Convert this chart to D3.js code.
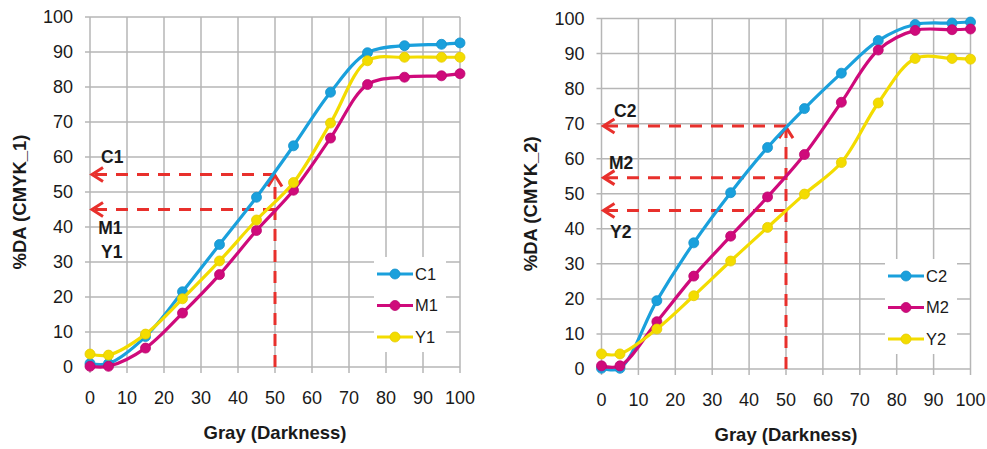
<!DOCTYPE html>
<html>
<head>
<meta charset="utf-8">
<script src="https://cdnjs.cloudflare.com/ajax/libs/d3/7.8.5/d3.min.js"></script>
<style>
    body { margin: 0; background: #fff; }
    text { font-family: "Liberation Sans", Arial, sans-serif; fill: #1a1a1a; }
</style>
</head>
<body>
<svg id="chart" width="987" height="449"></svg>
<script>
// gray levels measured (x axis)
const grayLevels = [0, 5, 15, 25, 35, 45, 55, 65, 75, 85, 95, 100]

// CMYK_1 curves
const c1 = [1, 1, 8.7, 21.5, 35, 48.5, 63.2, 78.5, 89.8, 91.8, 92.2, 92.6]
const m1 = [0.2, 0.2, 5.4, 15.4, 26.4, 39, 50.5, 65.4, 80.7, 82.8, 83.2, 83.8]
const y1 = [3.7, 3.4, 9.4, 19.5, 30.3, 42, 52.7, 69.7, 87.5, 88.5, 88.5, 88.5]

// CMYK_2 curves
const c2 = [0.2, 0.2, 19.5, 36, 50.3, 63.2, 74.3, 84.4, 93.7, 98.3, 98.7, 99]
const m2 = [0.9, 0.9, 13.5, 26.5, 37.9, 49.1, 61.2, 76.1, 91, 96.6, 96.8, 97]
const y2 = [4.3, 4.3, 11.4, 20.9, 30.8, 40.4, 49.9, 58.9, 75.9, 88.6, 88.6, 88.4]

const tickValues = [0, 10, 20, 30, 40, 50, 60, 70, 80, 90, 100]

// red guide lines: read %DA at gray 50
const guideGray = 50
const guides1 = [55, 45]
const guides2 = [69.3, 54.6, 45.2]
const notes1 = [{ text: "C1", x: 3, y: 58.3 }, { text: "M1", x: 2.2, y: 38 }, { text: "Y1", x: 3, y: 31.1 }]
const notes2 = [{ text: "C2", x: 3.4, y: 72 }, { text: "M2", x: 2, y: 57 }, { text: "Y2", x: 2.3, y: 37.3 }]

const colors = { C: "#1aa0dc", M: "#cf0a7b", Y: "#f3dc00" }
const markerStroke = { C: "#1592cb", M: "#bd0870", Y: "#e6cc00" }
const gridColor = "#b6b6b6"
const red = "#e8302c"

const svg = d3.select("#chart")

const drawPanel = (p) => {
    const x = d3.scaleLinear().domain([0, 100]).range([p.left, p.right])
    const y = d3.scaleLinear().domain([0, 100]).range([p.bottom, p.top])
    const g = svg.append("g")

    // grid + tick stubs
    g.append("g")
        .selectAll("line")
        .data(tickValues)
        .enter()
        .append("line")
        .attr("x1", d => x(d)).attr("x2", d => x(d))
        .attr("y1", p.top).attr("y2", p.bottom + 6)
        .attr("stroke", gridColor).attr("stroke-width", 1.5)
    g.append("g")
        .selectAll("line")
        .data(tickValues)
        .enter()
        .append("line")
        .attr("x1", p.left - 5).attr("x2", p.right)
        .attr("y1", d => y(d)).attr("y2", d => y(d))
        .attr("stroke", gridColor).attr("stroke-width", 1.5)

    // tick labels
    g.append("g")
        .selectAll("text")
        .data(tickValues)
        .enter()
        .append("text")
        .attr("x", d => x(d))
        .attr("y", p.bottom + 36.5)
        .attr("text-anchor", "middle")
        .attr("font-size", 18)
        .text(d => d)
    g.append("g")
        .selectAll("text")
        .data(tickValues)
        .enter()
        .append("text")
        .attr("x", p.left - 17)
        .attr("y", d => y(d))
        .attr("dy", "0.36em")
        .attr("text-anchor", "end")
        .attr("font-size", 18)
        .text(d => d)

    // axis titles
    g.append("text")
        .attr("x", (p.left + p.right) / 2)
        .attr("y", p.bottom + 72)
        .attr("text-anchor", "middle")
        .attr("font-size", 18.5)
        .attr("font-weight", "bold")
        .text("Gray (Darkness)")
    g.append("text")
        .attr("transform", `translate(${p.yTitleX}, ${(p.top + p.bottom) / 2 + 10}) rotate(-90)`)
        .attr("text-anchor", "middle")
        .attr("font-size", 18.5)
        .attr("font-weight", "bold")
        .text(p.yTitle)

    // red dashed guides
    const guideG = g.append("g")
        .attr("stroke", red).attr("stroke-width", 3).attr("fill", "none")
    const topLevel = d3.max(p.guides)
    guideG.append("line")
        .attr("x1", x(guideGray)).attr("x2", x(guideGray))
        .attr("y1", y(0)).attr("y2", y(topLevel) + 1)
        .attr("stroke-dasharray", "12,9")
    guideG.append("path")
        .attr("d", `M${x(guideGray) - 7},${y(topLevel) + 12}L${x(guideGray)},${y(topLevel) + 1}L${x(guideGray) + 7},${y(topLevel) + 12}`)
    p.guides.forEach(level => {
        guideG.append("line")
            .attr("x1", x(guideGray)).attr("x2", x(0) + 2)
            .attr("y1", y(level)).attr("y2", y(level))
            .attr("stroke-dasharray", "12,9")
        guideG.append("path")
            .attr("d", `M${x(0) + 13},${y(level) - 7}L${x(0) + 2},${y(level)}L${x(0) + 13},${y(level) + 7}`)
    })
    g.append("g")
        .selectAll("text")
        .data(p.notes)
        .enter()
        .append("text")
        .attr("x", d => x(d.x))
        .attr("y", d => y(d.y))
        .attr("font-size", 17.5)
        .attr("font-weight", "bold")
        .text(d => d.text)

    // series
    const line = d3.line()
        .x(d => x(d[0]))
        .y(d => y(d[1]))
        .curve(d3.curveCatmullRom.alpha(0.5))
    p.series.forEach(s => {
        const pts = grayLevels.map((gl, i) => [gl, s.values[i]])
        g.append("path")
            .attr("d", line(pts))
            .attr("fill", "none")
            .attr("stroke", colors[s.key])
            .attr("stroke-width", 3.2)
        g.append("g")
            .selectAll("circle")
            .data(pts)
            .enter()
            .append("circle")
            .attr("cx", d => x(d[0]))
            .attr("cy", d => y(d[1]))
            .attr("r", 5)
            .attr("fill", colors[s.key])
            .attr("stroke", markerStroke[s.key])
            .attr("stroke-width", 0.8)
    })

    // legend
    const lg = g.append("g").attr("transform", `translate(${p.legendX}, ${p.legendY})`)
    lg.append("rect")
        .attr("x", 0).attr("y", 0)
        .attr("width", 72).attr("height", 95)
        .attr("fill", "#fff")
    p.series.forEach((s, i) => {
        const row = lg.append("g").attr("transform", `translate(0, ${17 + i * 31.5})`)
        row.append("line")
            .attr("x1", 3).attr("x2", 39)
            .attr("stroke", colors[s.key]).attr("stroke-width", 3.2)
        row.append("circle")
            .attr("cx", 21).attr("r", 5)
            .attr("fill", colors[s.key])
            .attr("stroke", markerStroke[s.key]).attr("stroke-width", 0.8)
        row.append("text")
            .attr("x", 41).attr("dy", "0.36em")
            .attr("font-size", 16.5)
            .text(s.name)
    })
}

drawPanel({
    left: 90, right: 460, top: 17, bottom: 367,
    yTitle: "%DA (CMYK_1)", yTitleX: 26,
    guides: guides1, notes: notes1,
    legendX: 374, legendY: 257,
    series: [
        { key: "C", name: "C1", values: c1 },
        { key: "M", name: "M1", values: m1 },
        { key: "Y", name: "Y1", values: y1 }
    ]
})

drawPanel({
    left: 601.5, right: 970.5, top: 18.5, bottom: 369,
    yTitle: "%DA (CMYK_2)", yTitleX: 537,
    guides: guides2, notes: notes2,
    legendX: 885, legendY: 259,
    series: [
        { key: "C", name: "C2", values: c2 },
        { key: "M", name: "M2", values: m2 },
        { key: "Y", name: "Y2", values: y2 }
    ]
})
</script>
</body>
</html>
